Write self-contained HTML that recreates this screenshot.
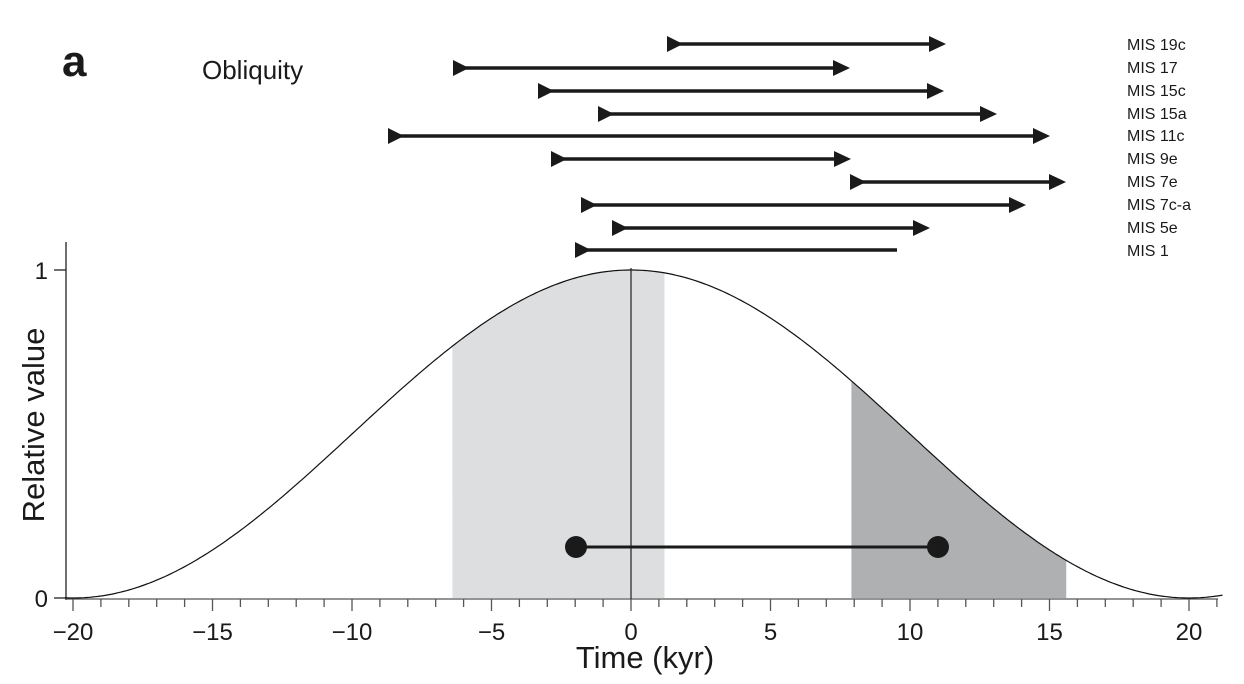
<!DOCTYPE html>
<html><head><meta charset="utf-8"><style>
html,body{margin:0;padding:0;background:#fff;}
svg{display:block;font-family:"Liberation Sans",sans-serif;}
</style></head><body>
<svg id="s" width="1244" height="684" viewBox="0 0 1244 684" xmlns="http://www.w3.org/2000/svg">
<text x="62" y="76" font-size="44" font-weight="bold" fill="#1a1a1a">a</text>
<text x="202" y="79" font-size="26" fill="#1a1a1a">Obliquity</text>
<g id="shade"></g>
<g id="arrows" fill="#1a1a1a" stroke="#1a1a1a"></g>
<g font-size="16" fill="#1a1a1a">
<text x="1127" y="50">MIS 19c</text>
<text x="1127" y="73">MIS 17</text>
<text x="1127" y="96">MIS 15c</text>
<text x="1127" y="119">MIS 15a</text>
<text x="1127" y="141">MIS 11c</text>
<text x="1127" y="164">MIS 9e</text>
<text x="1127" y="187">MIS 7e</text>
<text x="1127" y="210">MIS 7c-a</text>
<text x="1127" y="233">MIS 5e</text>
<text x="1127" y="256">MIS 1</text>
</g>
<line x1="66" y1="242" x2="66" y2="600" stroke="#222" stroke-width="1.3"/>
<line x1="66" y1="599" x2="1218" y2="599" stroke="#555" stroke-width="1.3"/>
<line x1="54" y1="270" x2="66" y2="270" stroke="#222" stroke-width="1.3"/>
<line x1="54" y1="598" x2="66" y2="598" stroke="#222" stroke-width="1.3"/>
<text x="48" y="279" font-size="24" text-anchor="end" fill="#1a1a1a">1</text>
<text x="48" y="607" font-size="24" text-anchor="end" fill="#1a1a1a">0</text>
<g id="ticks"></g>
<path id="curve" fill="none" stroke="#111" stroke-width="1.2"/>
<line x1="631" y1="268" x2="631" y2="599" stroke="#222" stroke-width="1.2"/>
<line x1="576" y1="547" x2="938" y2="547" stroke="#1a1a1a" stroke-width="3"/>
<circle cx="576" cy="547" r="11" fill="#1a1a1a"/>
<circle cx="938" cy="547" r="11" fill="#1a1a1a"/>
<text x="645" y="668" font-size="31" text-anchor="middle" fill="#1a1a1a">Time (kyr)</text>
<text transform="translate(44,425) rotate(-90)" font-size="31" text-anchor="middle" fill="#1a1a1a">Relative value</text>
</svg>
<script>
var NS="http://www.w3.org/2000/svg";
function X(t){return 631+t*27.9;}
function Y(t){return 598-328*(1+Math.cos(2*Math.PI*t/40))/2;}
function el(p,n,a){var e=document.createElementNS(NS,n);for(var k in a)e.setAttribute(k,a[k]);p.appendChild(e);return e;}
var d="";for(var t=-20.3;t<=21.3;t+=0.1){d+=(d?"L":"M")+X(t).toFixed(1)+","+Y(t).toFixed(1);}
document.getElementById("curve").setAttribute("d",d);
function area(a,b,c){var s="M"+X(a)+",598";for(var t=a;t<=b+1e-6;t+=0.05){s+="L"+X(t).toFixed(1)+","+Y(t).toFixed(1);}s+="L"+X(b)+","+Y(b)+"L"+X(b)+",598Z";el(document.getElementById("shade"),"path",{d:s,fill:c});}
area(-6.4,1.2,"#dcdedf");area(7.9,15.6,"#aeb0b2");
var tk=document.getElementById("ticks");
for(var i=-20;i<=21;i++){var maj=i%5==0;el(tk,"line",{x1:X(i),x2:X(i),y1:599,y2:maj?611:607,stroke:"#555","stroke-width":1.3});
if(maj){var tx=el(tk,"text",{x:X(i),y:640,"font-size":24,"text-anchor":"middle",fill:"#1a1a1a"});tx.textContent=(i<0?"\u2212"+(-i):""+i);}}
var rows=[[44,667,946,1],[68,453,850,1],[91,538,944,1],[114,598,997,1],[136,388,1050,1],[159,551,851,1],[182,850,1066,1],[205,581,1026,1],[228,612,930,1],[250,575,897,0]];
var g=document.getElementById("arrows");
rows.forEach(function(r){var y=r[0],a=r[1],b=r[2];
el(g,"line",{x1:a+5,y1:y,x2:b-(r[3]?6:0),y2:y,"stroke-width":3.5,stroke:"#1a1a1a"});
el(g,"polygon",{points:a+","+(y-8)+" "+(a+16)+","+y+" "+a+","+(y+8),stroke:"none"});
if(r[3])el(g,"polygon",{points:(b-17)+","+(y-8)+" "+b+","+y+" "+(b-17)+","+(y+8),stroke:"none"});});
</script>
</body></html>
